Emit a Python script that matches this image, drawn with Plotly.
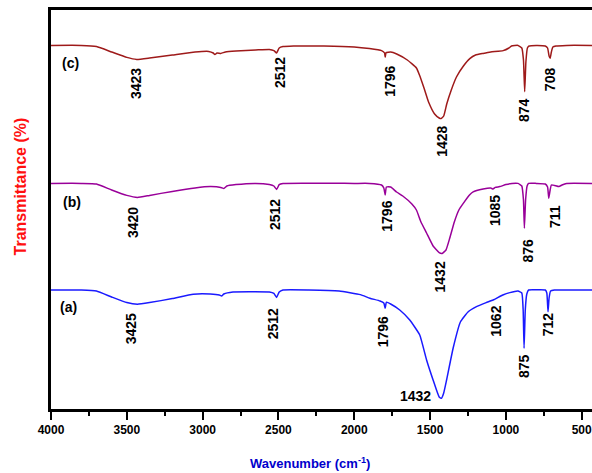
import plotly.graph_objects as go

# ---- data (wavenumber in cm-1, transmittance in arbitrary % units, offset traces) ----
wn_c = [4000, 3800, 3700, 3600, 3500, 3435, 3350, 3200, 3050, 2960, 2930, 2919, 2905, 2880, 2850,
        2780, 2650, 2560, 2530, 2512, 2495, 2470, 2400, 2200, 2000, 1900, 1820, 1800, 1796, 1790,
        1760, 1720, 1650, 1590, 1570, 1540, 1510, 1470, 1440, 1428, 1410, 1390, 1360, 1326, 1280,
        1238, 1200, 1150, 1100, 1018, 980, 963, 920, 895, 884, 876, 868, 858, 847, 800, 740, 725,
        715, 708, 700, 690, 670, 600, 432]
t_c = [90.9, 90.9, 90.6, 89.25, 87.9, 87.4, 87.75, 88.5, 89.25, 89.4, 89.0, 88.6, 89.0, 88.9, 89.25,
       89.5, 89.75, 89.9, 89.6, 89.0, 90.25, 90.6, 90.75, 90.75, 90.5, 90.1, 89.6, 89.0, 88.0, 89.1,
       89.25, 88.75, 87.25, 85.25, 83.5, 80.25, 76.75, 73.75, 72.75, 72.6, 73.25, 76.25, 79.75, 83.0, 85.75,
       87.6, 88.5, 88.9, 89.25, 89.6, 90.25, 90.75, 90.9, 90.25, 87.25, 79.3, 86.75, 90.25, 90.75, 90.9, 90.75, 90.25,
       88.25, 87.7, 89.25, 90.5, 90.75, 90.9, 90.9]

wn_b = [4000, 3800, 3700, 3600, 3500, 3430, 3350, 3200, 3050, 2950, 2880, 2860, 2840, 2780, 2650,
        2560, 2530, 2512, 2495, 2470, 2000, 1900, 1820, 1805, 1796, 1788, 1760, 1721, 1680, 1620,
        1590, 1560, 1523, 1480, 1440, 1420, 1395, 1370, 1340, 1310, 1281, 1240, 1216, 1150, 1100,
        1085, 1070, 1040, 1000, 960, 920, 895, 884, 878, 870, 860, 850, 800, 740, 725, 717, 708,
        700, 680, 650, 630, 600, 432]
t_b = [56.4, 56.4, 56.25, 54.75, 53.4, 52.9, 53.4, 54.4, 55.25, 55.6, 55.4, 55.1, 55.75, 56.1, 56.4,
       56.1, 55.75, 54.9, 56.1, 56.4, 56.4, 56.4, 56.0, 55.25, 53.5, 55.5, 55.5, 54.25, 53.25, 51.25,
       49.75, 46.75, 44.0, 40.75, 39.1, 38.9, 39.75, 42.75, 46.75, 49.75, 51.4, 53.5, 54.3, 55.0, 55.25,
       55.0, 55.4, 55.6, 56.1, 56.4, 56.4, 55.75, 52.25, 45.2, 52.25, 55.75, 56.4, 56.4, 56.25, 55.5, 52.7, 54.75,
       56.0, 55.9, 55.6, 56.0, 56.4, 56.4]

wn_a = [4000, 3800, 3700, 3600, 3500, 3430, 3350, 3200, 3062, 2950, 2890, 2875, 2860, 2800, 2680,
        2560, 2530, 2512, 2495, 2470, 2300, 2100, 1960, 1897, 1830, 1805, 1796, 1788, 1760, 1700,
        1634, 1568, 1523, 1480, 1440, 1425, 1410, 1391, 1348, 1300, 1250, 1194, 1130, 1084, 1020,
        974, 920, 895, 886, 880, 872, 862, 850, 800, 740, 730, 722, 715, 705, 680, 600, 432]
t_a = [29.75, 29.75, 29.5, 28.0, 26.6, 26.2, 26.6, 27.6, 28.7, 28.75, 28.5, 28.25, 28.75, 29.25, 29.3,
       29.25, 28.9, 27.9, 29.25, 29.75, 29.75, 29.5, 28.6, 27.7, 27.0, 26.5, 25.2, 26.7, 26.25, 24.75,
       22.25, 18.5, 12.25, 7.25, 3.0, 2.7, 4.0, 7.25, 15.2, 21.75, 24.25, 25.6, 26.6, 27.25, 28.5,
       29.1, 29.5, 29.0, 24.75, 15.2, 24.75, 28.75, 29.75, 29.8, 29.75, 29.0, 24.3, 27.75, 29.5, 29.75, 29.75, 29.75]

x_ticks = [4000, 3500, 3000, 2500, 2000, 1500, 1000, 500]
x_tick_labels = ["4000", "3500", "3000", "2500", "2000", "1500", "1000", "500"]

# peak labels: (text, wavenumber position, transmittance position, rotated)
labels_c = [("(c)", 3870, 86.4, False), ("3423", 3439, 81.25, True), ("2512", 2489, 84.0, True),
            ("1796", 1764, 81.8, True), ("1428", 1423, 67.0, True), ("874", 880, 74.75, True),
            ("708", 708, 82.5, True)]
labels_b = [("(b)", 3863, 51.8, False), ("3420", 3459, 46.5, True), ("2512", 2522, 48.5, True),
            ("1796", 1786, 48.25, True), ("1432", 1434, 32.9, True), ("1085", 1071, 49.5, True),
            ("876", 851, 39.75, True), ("711", 676, 48.0, True)]
labels_a = [("(a)", 3886, 25.6, False), ("3425", 3474, 20.1, True), ("2512", 2534, 21.25, True),
            ("1796", 1808, 19.25, True), ("1432", 1599, 3.25, False), ("1062", 1067, 22.0, True),
            ("875", 880, 10.75, True), ("712", 720, 21.25, True)]

FONT = "Liberation Sans, Arial, sans-serif"

fig = go.Figure()
for wn, t, col in [(wn_a, t_a, "#1A1AFF"), (wn_b, t_b, "#990099"), (wn_c, t_c, "#9E1A1A")]:
    fig.add_trace(go.Scatter(x=wn, y=t, mode="lines",
                             line=dict(color=col, width=1.5, shape="spline", smoothing=0.4),
                             showlegend=False, hoverinfo="skip"))

for lab in (labels_a, labels_b, labels_c):
    for txt, xv, yv, rot in lab:
        fig.add_annotation(x=xv, y=yv, xref="x", yref="y", text=txt, showarrow=False,
                           textangle=-90 if rot else 0, xanchor="center", yanchor="middle",
                           font=dict(family=FONT, size=14, color="black", weight="bold"))

fig.add_annotation(x=-0.0555, y=0.5576, xref="paper", yref="paper", text="Transmittance (%)",
                   showarrow=False, textangle=-90, xanchor="center", yanchor="middle",
                   font=dict(family=FONT, size=16, color="#FF1010", weight="bold"))
fig.add_annotation(x=0.4787, y=-0.1353, xref="paper", yref="paper",
                   text="Wavenumber (cm<sup>-1</sup>)", showarrow=False,
                   xanchor="center", yanchor="middle",
                   font=dict(family=FONT, size=13, color="#0000CC", weight="bold"))

fig.update_layout(
    width=592, height=473,
    margin=dict(l=51, r=0, t=10, b=64),
    paper_bgcolor="white", plot_bgcolor="white",
    xaxis=dict(range=[4000, 432], tickvals=x_ticks, ticktext=x_tick_labels,
               ticklabeloverflow="allow",
               showgrid=False, zeroline=False, showline=True, linecolor="black", linewidth=2.5,
               mirror=True, ticks="outside", ticklen=8, tickwidth=2, tickcolor="black",
               minor=dict(ticks="outside", ticklen=4, tickwidth=1.5, dtick=250, tick0=0, tickcolor="black", showgrid=False),
               tickfont=dict(family=FONT, size=12, color="black", weight="bold")),
    yaxis=dict(range=[0, 99.75], showgrid=False, zeroline=False, showline=True, linecolor="black",
               linewidth=2.5, showticklabels=False, ticks=""),
)

fig.write_html("out.html")
